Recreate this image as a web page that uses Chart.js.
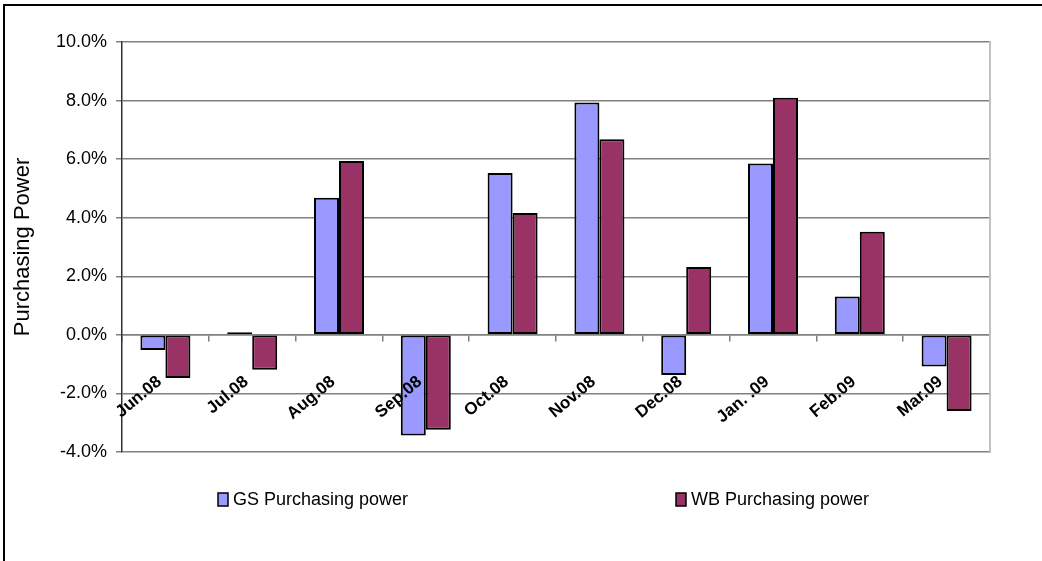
<!DOCTYPE html>
<html>
<head>
<meta charset="utf-8">
<script src="https://cdn.jsdelivr.net/npm/chart.js@4.4.1/dist/chart.umd.min.js"></script>
<style>
  html, body { margin: 0; padding: 0; background: #fff; overflow: hidden; }
  #wrap { position: relative; width: 1042px; height: 561px; }
  #frame { position: absolute; left: 3px; top: 4px; width: 1100px; height: 600px;
           border-left: 2px solid #000; border-top: 2px solid #000; pointer-events: none; }
</style>
</head>
<body>
<div id="wrap">
  <canvas id="myChart" width="1042" height="561"></canvas>
  <div id="frame"></div>
</div>
<script>
const months = ['Jun.08', 'Jul.08', 'Aug.08', 'Sep.08', 'Oct.08', 'Nov.08', 'Dec.08', 'Jan. .09', 'Feb.09', 'Mar.09'];
const gsPower = [-0.52, 0.09, 4.68, -3.44, 5.53, 7.93, -1.37, 5.85, 1.31, -1.08];
const wbPower = [-1.47, -1.19, 5.94, -3.24, 4.16, 6.68, 2.32, 8.10, 3.52, -2.60];
const yTicks = [-4, -2, 0, 2, 4, 6, 8, 10];

const fontFamily = 'Arial, "Liberation Sans", sans-serif';

// legend drawn by hand so the two entries sit far apart like the original
const sideLegend = {
    id: 'sideLegend',
    afterDraw(chart) {
        const ctx = chart.ctx;
        const xs = [218, 676];
        const y = 500;
        ctx.save();
        ctx.font = '18px ' + fontFamily;
        ctx.textBaseline = 'middle';
        chart.data.datasets.forEach((ds, i) => {
            ctx.fillStyle = ds.backgroundColor;
            ctx.fillRect(xs[i], y - 7, 10, 13);
            ctx.strokeStyle = '#000';
            ctx.lineWidth = 1.5;
            ctx.strokeRect(xs[i], y - 7, 10, 13);
            ctx.fillStyle = '#000';
            ctx.fillText(ds.label, xs[i] + 15, y);
        });
        ctx.restore();
    }
};

const ctx = document.getElementById('myChart');

new Chart(ctx, {
    type: 'bar',
    data: {
        labels: months,
        datasets: [
            {
                label: 'GS Purchasing power',
                data: gsPower,
                backgroundColor: '#9999FF',
                borderColor: '#000',
                borderWidth: 2,
                borderSkipped: false,
            },
            {
                label: 'WB Purchasing power',
                data: wbPower,
                backgroundColor: '#993366',
                borderColor: '#000',
                borderWidth: 2,
                borderSkipped: false,
            }
        ]
    },
    options: {
        responsive: false,
        animation: false,
        events: [],
        categoryPercentage: 0.576,
        barPercentage: 1,
        layout: {
            padding: { left: 4, top: 42, right: 52, bottom: 109 }
        },
        plugins: {
            legend: { display: false },
            tooltip: { enabled: false }
        },
        scales: {
            x: {
                position: { y: 0 },
                grid: {
                    offset: true,
                    drawOnChartArea: false,
                    tickLength: 6,
                    color: '#808080',
                    lineWidth: 1.5
                },
                border: { color: '#808080', width: 1.5 },
                ticks: {
                    z: 1,
                    autoSkip: false,
                    minRotation: 40,
                    maxRotation: 40,
                    padding: 31,
                    labelOffset: -6,
                    color: '#000',
                    font: { family: fontFamily, size: 17, weight: 'bold' }
                }
            },
            y: {
                min: -4,
                max: 10,
                afterBuildTicks(scale) {
                    scale.ticks = yTicks.map(v => ({ value: v }));
                },
                afterFit(scale) {
                    scale.width = 118;
                },
                grid: { color: '#808080', tickLength: 6, lineWidth: 1.5 },
                border: { color: '#303030', width: 1.5 },
                ticks: {
                    padding: 9,
                    color: '#000',
                    font: { family: fontFamily, size: 18 },
                    callback: function(value) {
                        return value.toFixed(1) + '%';
                    }
                },
                title: {
                    display: true,
                    text: 'Purchasing Power',
                    color: '#000',
                    padding: { top: 6, bottom: 0 },
                    font: { family: fontFamily, size: 22 }
                }
            },
            y2: {
                position: 'right',
                grid: { display: false, drawOnChartArea: false },
                ticks: { display: false },
                border: { display: true, color: '#c0c0c0', width: 2 },
                afterFit(scale) {
                    scale.width = 0;
                }
            }
        }
    },
    plugins: [sideLegend]
});
</script>
</body>
</html>
